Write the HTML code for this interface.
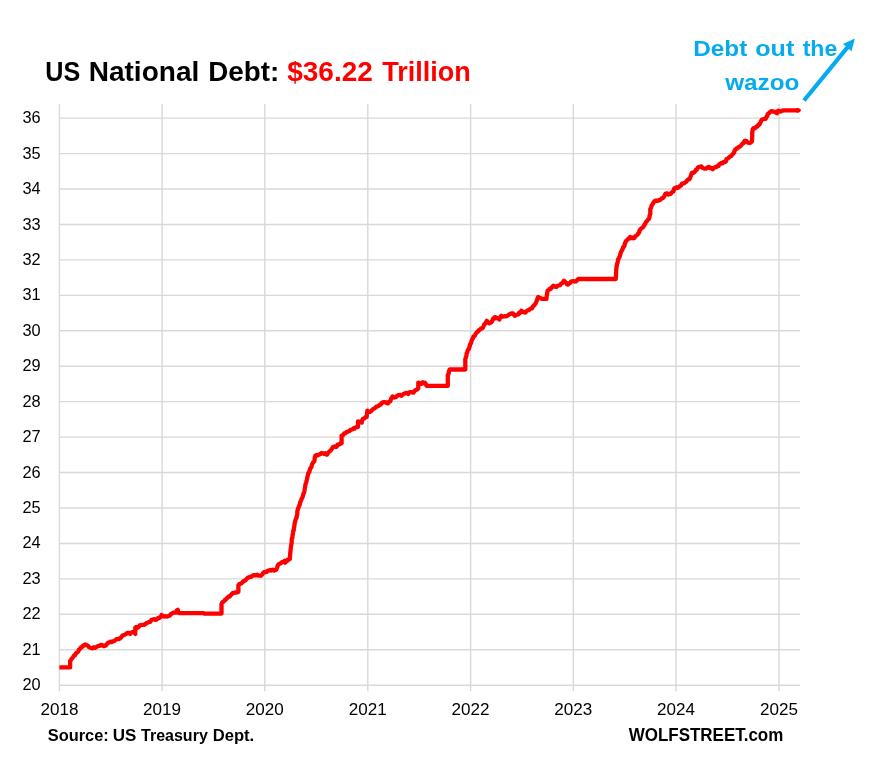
<!DOCTYPE html>
<html lang="en">
<head>
<meta charset="utf-8">
<title>US National Debt</title>
<style>
html,body{margin:0;padding:0;background:#fff;}
body{width:877px;height:760px;overflow:hidden;}
svg{display:block;}
text{font-family:"Liberation Sans",sans-serif;}
.b{font-weight:bold;}
.ax{font-size:16.6px;fill:#000;}
</style>
</head>
<body>
<svg width="877" height="760" viewBox="0 0 877 760">
<rect width="877" height="760" fill="#ffffff"/>
<g stroke="#d9d9d9" stroke-width="1.4" fill="none">
<line x1="59.4" y1="118.15" x2="800" y2="118.15"/>
<line x1="59.4" y1="153.59" x2="800" y2="153.59"/>
<line x1="59.4" y1="189.03" x2="800" y2="189.03"/>
<line x1="59.4" y1="224.47" x2="800" y2="224.47"/>
<line x1="59.4" y1="259.91" x2="800" y2="259.91"/>
<line x1="59.4" y1="295.35" x2="800" y2="295.35"/>
<line x1="59.4" y1="330.79" x2="800" y2="330.79"/>
<line x1="59.4" y1="366.23" x2="800" y2="366.23"/>
<line x1="59.4" y1="401.67" x2="800" y2="401.67"/>
<line x1="59.4" y1="437.11" x2="800" y2="437.11"/>
<line x1="59.4" y1="472.55" x2="800" y2="472.55"/>
<line x1="59.4" y1="507.99" x2="800" y2="507.99"/>
<line x1="59.4" y1="543.43" x2="800" y2="543.43"/>
<line x1="59.4" y1="578.87" x2="800" y2="578.87"/>
<line x1="59.4" y1="614.31" x2="800" y2="614.31"/>
<line x1="59.4" y1="649.75" x2="800" y2="649.75"/>
<line x1="59.4" y1="685.19" x2="800" y2="685.19"/>
<line x1="59.4" y1="103.7" x2="59.4" y2="691.3"/>
<line x1="162.1" y1="103.7" x2="162.1" y2="691.3"/>
<line x1="264.8" y1="103.7" x2="264.8" y2="691.3"/>
<line x1="367.8" y1="103.7" x2="367.8" y2="691.3"/>
<line x1="470.6" y1="103.7" x2="470.6" y2="691.3"/>
<line x1="573.3" y1="103.7" x2="573.3" y2="691.3"/>
<line x1="676.0" y1="103.7" x2="676.0" y2="691.3"/>
<line x1="779.0" y1="103.7" x2="779.0" y2="691.3"/>
</g>
<g class="ax" text-anchor="end">
<text x="40.6" y="123.2" textLength="18.2" lengthAdjust="spacingAndGlyphs">36</text>
<text x="40.6" y="158.6" textLength="18.2" lengthAdjust="spacingAndGlyphs">35</text>
<text x="40.6" y="194.0" textLength="18.2" lengthAdjust="spacingAndGlyphs">34</text>
<text x="40.6" y="229.5" textLength="18.2" lengthAdjust="spacingAndGlyphs">33</text>
<text x="40.6" y="264.9" textLength="18.2" lengthAdjust="spacingAndGlyphs">32</text>
<text x="40.6" y="300.4" textLength="18.2" lengthAdjust="spacingAndGlyphs">31</text>
<text x="40.6" y="335.8" textLength="18.2" lengthAdjust="spacingAndGlyphs">30</text>
<text x="40.6" y="371.2" textLength="18.2" lengthAdjust="spacingAndGlyphs">29</text>
<text x="40.6" y="406.7" textLength="18.2" lengthAdjust="spacingAndGlyphs">28</text>
<text x="40.6" y="442.1" textLength="18.2" lengthAdjust="spacingAndGlyphs">27</text>
<text x="40.6" y="477.5" textLength="18.2" lengthAdjust="spacingAndGlyphs">26</text>
<text x="40.6" y="513.0" textLength="18.2" lengthAdjust="spacingAndGlyphs">25</text>
<text x="40.6" y="548.4" textLength="18.2" lengthAdjust="spacingAndGlyphs">24</text>
<text x="40.6" y="583.9" textLength="18.2" lengthAdjust="spacingAndGlyphs">23</text>
<text x="40.6" y="619.3" textLength="18.2" lengthAdjust="spacingAndGlyphs">22</text>
<text x="40.6" y="654.7" textLength="18.2" lengthAdjust="spacingAndGlyphs">21</text>
<text x="40.6" y="690.2" textLength="18.2" lengthAdjust="spacingAndGlyphs">20</text>
</g>
<g class="ax" text-anchor="middle">
<text x="59.4" y="715.4" textLength="38" lengthAdjust="spacingAndGlyphs">2018</text>
<text x="162.1" y="715.4" textLength="38" lengthAdjust="spacingAndGlyphs">2019</text>
<text x="264.8" y="715.4" textLength="38" lengthAdjust="spacingAndGlyphs">2020</text>
<text x="367.8" y="715.4" textLength="38" lengthAdjust="spacingAndGlyphs">2021</text>
<text x="470.6" y="715.4" textLength="38" lengthAdjust="spacingAndGlyphs">2022</text>
<text x="573.3" y="715.4" textLength="38" lengthAdjust="spacingAndGlyphs">2023</text>
<text x="676.0" y="715.4" textLength="38" lengthAdjust="spacingAndGlyphs">2024</text>
<text x="779.0" y="715.4" textLength="38" lengthAdjust="spacingAndGlyphs">2025</text>
</g>
<path d="M59.4,667.4 L70.1,667.4 L70.1,661.5 L70.6,660.2 L71.1,659.7 L71.9,658.4 L72.9,657.4 L74.0,655.6 L75.1,655.2 L75.8,653.6 L76.5,652.7 L77.6,652.3 L78.2,651.5 L78.7,649.9 L79.6,649.6 L80.1,648.3 L81.1,647.4 L82.0,647.1 L83.2,645.4 L84.2,645.7 L85.2,644.5 L86.4,644.8 L87.4,645.3 L88.1,645.9 L88.9,647.1 L90.1,647.7 L91.2,648.0 L92.6,648.3 L93.7,647.2 L95.1,647.8 L96.4,647.1 L97.5,646.2 L98.5,645.9 L99.8,645.8 L100.8,644.8 L101.9,644.9 L103.0,645.8 L103.9,646.2 L104.8,645.8 L105.7,645.5 L107.0,644.0 L107.9,642.9 L108.9,642.7 L110.2,641.6 L111.5,642.2 L112.7,641.4 L113.9,641.2 L115.3,640.2 L116.5,639.2 L117.7,639.0 L119.1,639.1 L120.2,638.3 L121.3,637.2 L122.4,635.6 L123.4,635.2 L124.8,634.7 L125.8,634.2 L127.1,633.0 L128.2,633.1 L129.2,632.9 L130.3,633.9 L131.4,632.5 L132.8,632.0 L134.2,632.3 L135.3,633.9 L135.3,627.6 L136.4,627.0 L137.8,627.6 L139.0,626.6 L139.8,625.3 L140.9,625.1 L142.5,624.8 L144.0,624.9 L145.3,624.1 L146.5,623.1 L148.0,622.5 L149.1,622.0 L150.2,621.9 L151.5,619.8 L152.8,619.5 L154.1,619.2 L155.2,619.8 L156.6,619.7 L157.8,618.2 L159.1,618.2 L160.0,617.0 L160.8,616.8 L161.6,615.1 L162.9,615.9 L164.1,616.6 L165.0,616.2 L166.1,616.3 L167.6,616.5 L168.8,615.8 L169.8,615.7 L170.6,614.3 L171.5,613.8 L173.1,612.7 L174.5,612.7 L176.0,612.5 L176.7,610.5 L177.8,609.8 L178.0,610.5 L178.3,611.8 L178.8,613.1 L203.9,613.2 L204.5,613.6 L221.5,613.6 L221.5,604.0 L222.2,602.4 L223.1,601.7 L224.0,601.4 L225.1,599.8 L225.7,599.7 L226.7,598.3 L227.7,597.7 L228.5,596.7 L229.8,596.6 L230.5,595.2 L231.5,594.5 L232.6,593.2 L233.9,592.9 L235.3,592.4 L236.7,592.5 L238.4,591.7 L238.4,585.1 L239.6,583.8 L240.3,583.9 L241.5,583.3 L242.3,582.4 L243.4,581.4 L244.6,580.6 L245.5,580.3 L246.5,578.9 L247.7,577.9 L249.1,577.1 L250.3,577.0 L251.7,576.4 L252.7,575.5 L254.1,575.1 L255.8,575.4 L257.2,574.7 L258.6,575.7 L259.7,575.7 L261.0,575.6 L262.2,574.5 L263.2,572.8 L264.1,572.0 L265.2,571.8 L266.6,572.0 L267.8,570.6 L269.1,570.7 L268.9,570.6 L270.2,569.9 L271.4,570.6 L272.7,569.6 L274.1,570.6 L275.2,570.3 L276.1,569.7 L277.1,567.7 L277.6,566.0 L278.2,564.8 L278.9,564.0 L280.1,563.6 L281.0,563.2 L282.1,562.1 L283.5,561.7 L284.6,560.8 L285.2,562.7 L286.1,561.0 L287.0,561.2 L287.7,559.6 L288.7,559.7 L289.8,559.0 L290.2,554.0 L290.8,547.7 L291.1,546.0 L291.3,544.9 L291.3,544.6 L291.7,542.5 L291.7,541.4 L291.7,540.5 L291.9,538.3 L292.3,538.2 L292.5,535.8 L292.5,535.1 L292.8,534.6 L293.0,532.4 L293.1,530.8 L293.6,530.8 L293.9,528.9 L294.0,527.6 L294.4,526.2 L294.4,525.6 L294.6,523.4 L295.0,522.2 L295.2,521.3 L295.6,519.7 L296.2,518.3 L296.5,517.6 L296.7,516.1 L297.1,515.2 L297.3,513.7 L297.3,512.6 L297.3,511.4 L297.7,510.1 L298.0,508.7 L298.8,506.8 L299.1,505.8 L299.6,505.0 L300.3,501.9 L300.9,501.0 L301.5,499.1 L302.1,498.1 L302.7,496.9 L303.1,494.9 L303.4,493.7 L304.0,492.8 L304.2,492.0 L304.5,490.4 L304.6,489.7 L304.9,488.0 L305.2,486.6 L305.3,485.3 L305.6,484.0 L306.1,482.7 L306.4,481.8 L306.5,480.9 L307.1,479.1 L307.2,477.7 L307.5,477.0 L308.0,474.6 L308.3,473.3 L308.9,472.1 L309.4,471.9 L309.7,470.2 L310.3,468.4 L310.6,468.0 L311.4,467.1 L311.9,464.8 L312.2,464.0 L313.1,462.5 L314.1,461.4 L314.5,460.7 L314.7,458.1 L314.9,457.2 L315.3,455.8 L316.5,454.9 L317.6,455.3 L319.1,454.5 L320.3,454.2 L321.5,453.0 L322.8,453.3 L323.9,453.8 L325.2,453.2 L326.3,454.6 L327.2,454.5 L327.9,453.0 L328.9,452.0 L329.5,451.4 L330.4,450.8 L331.4,449.4 L332.0,448.7 L332.9,447.0 L334.6,446.5 L336.0,447.0 L336.9,446.3 L337.5,444.7 L338.5,444.5 L339.5,444.4 L340.7,443.1 L341.6,443.3 L341.6,435.7 L343.0,435.1 L344.3,433.4 L345.4,433.2 L346.6,431.9 L347.4,431.9 L348.5,431.3 L349.7,430.8 L350.5,429.8 L351.7,429.5 L352.6,429.2 L353.6,428.2 L354.8,428.5 L355.7,427.3 L356.9,427.2 L358.0,426.9 L358.0,421.3 L359.1,422.1 L360.3,422.2 L361.7,422.6 L361.9,421.1 L362.4,419.7 L363.0,418.8 L364.3,418.5 L365.5,417.1 L366.7,416.9 L367.4,410.6 L368.5,411.9 L369.9,411.9 L370.7,411.6 L371.8,410.4 L372.5,409.6 L373.6,408.7 L374.9,408.3 L375.9,407.0 L376.9,406.5 L378.2,406.2 L379.4,405.1 L380.7,404.6 L381.6,403.1 L382.9,402.3 L383.8,402.1 L384.7,402.1 L386.0,402.3 L386.9,403.3 L388.0,403.3 L388.9,401.8 L390.1,401.5 L390.7,399.9 L391.3,398.4 L392.2,397.3 L392.6,396.4 L394.2,397.5 L395.7,397.1 L397.1,395.8 L398.2,395.2 L399.2,395.1 L400.3,394.9 L401.4,395.8 L402.6,394.9 L403.9,393.7 L405.1,393.3 L406.1,392.8 L407.2,393.1 L408.3,393.9 L409.1,392.3 L410.2,392.1 L411.6,392.1 L413.3,392.7 L414.3,391.6 L415.2,390.2 L416.3,389.9 L417.4,389.3 L418.3,388.3 L418.3,382.6 L419.5,383.1 L420.8,383.9 L421.6,383.8 L422.7,382.3 L423.8,383.2 L424.9,382.7 L425.8,383.9 L426.5,385.9 L447.8,385.9 L447.8,375.1 L448.2,374.6 L448.7,373.2 L448.9,371.2 L449.5,370.6 L449.7,369.5 L465.3,369.5 L465.3,358.8 L465.8,358.0 L466.2,356.4 L466.5,355.3 L466.6,353.4 L467.2,352.5 L467.6,350.7 L468.3,349.4 L468.8,348.9 L469.3,347.7 L469.7,346.3 L469.9,345.3 L470.2,344.0 L471.0,343.2 L471.4,341.5 L471.7,340.5 L472.4,339.0 L472.9,338.4 L473.5,336.4 L474.1,336.3 L475.1,335.4 L475.5,334.0 L476.3,333.0 L477.2,332.1 L477.9,331.6 L478.7,330.2 L479.8,329.8 L481.1,328.4 L482.4,328.3 L482.9,327.6 L483.5,326.3 L484.2,324.4 L484.9,324.0 L485.6,323.2 L486.1,322.1 L486.8,320.8 L487.6,321.7 L488.3,322.4 L489.3,323.3 L490.2,322.9 L491.6,322.0 L492.5,320.2 L493.3,318.4 L494.4,318.6 L495.0,317.1 L496.2,317.6 L497.5,318.3 L498.6,318.5 L499.4,319.6 L500.0,317.9 L500.6,316.5 L501.2,315.8 L502.7,316.7 L504.4,316.2 L505.6,316.3 L506.9,316.1 L508.1,315.2 L509.5,314.2 L510.4,313.9 L511.9,313.3 L512.9,313.4 L513.9,314.9 L515.0,315.8 L516.0,314.8 L517.3,314.7 L518.2,314.5 L519.1,312.8 L519.6,313.2 L520.6,312.4 L521.3,310.8 L522.2,311.9 L523.3,311.7 L524.4,312.4 L525.5,312.6 L526.6,311.1 L527.5,310.4 L528.8,310.2 L530.0,309.0 L531.1,308.6 L532.0,308.3 L532.7,306.8 L533.4,306.1 L534.5,304.8 L535.1,303.9 L535.7,303.3 L536.3,301.8 L536.7,301.1 L537.0,299.6 L537.7,298.5 L538.2,297.0 L539.5,298.0 L540.6,297.9 L542.0,298.9 L546.4,298.9 L546.5,298.2 L546.7,296.1 L547.1,294.5 L547.1,294.1 L547.3,292.3 L547.6,290.7 L548.6,290.2 L549.6,288.9 L550.8,288.8 L551.8,287.3 L552.4,286.7 L553.3,285.7 L554.5,286.7 L555.2,286.4 L556.4,286.9 L557.5,285.8 L558.8,285.5 L560.2,285.1 L561.1,283.6 L562.3,283.0 L563.0,282.2 L564.0,280.7 L564.8,281.5 L565.5,282.4 L566.2,282.8 L567.1,284.4 L568.0,284.5 L569.2,283.2 L570.0,283.1 L571.0,281.6 L572.1,281.3 L573.3,281.1 L574.6,281.3 L575.0,281.5 L576.2,281.3 L576.9,280.4 L578.2,279.0 L615.8,279.0 L616.2,270.3 L616.4,268.3 L616.5,268.4 L616.5,266.7 L617.0,265.1 L617.0,264.0 L617.5,263.2 L617.7,262.2 L618.0,259.6 L618.6,259.0 L618.9,257.7 L619.5,257.1 L620.0,255.4 L620.4,253.9 L621.0,252.0 L621.4,251.4 L622.2,249.8 L622.6,249.1 L623.2,247.1 L624.0,246.6 L624.6,245.2 L624.8,243.4 L625.4,242.7 L625.8,241.4 L626.6,240.4 L627.4,239.8 L628.4,238.5 L629.4,238.6 L630.2,237.0 L631.2,238.0 L632.2,237.5 L633.3,238.3 L634.5,238.0 L635.3,236.1 L636.7,235.4 L637.7,234.5 L638.2,233.3 L639.2,232.5 L639.4,230.7 L640.2,229.8 L640.9,228.9 L641.8,228.1 L643.1,227.2 L644.0,225.7 L644.5,224.5 L645.2,223.9 L645.9,222.0 L646.8,221.4 L648.1,219.4 L649.0,218.8 L649.5,217.2 L649.5,216.3 L649.9,214.6 L650.3,213.8 L650.3,208.8 L651.1,207.8 L651.5,205.8 L652.4,204.6 L652.8,203.8 L653.7,202.2 L654.8,201.0 L655.9,200.6 L657.1,201.0 L658.2,200.5 L659.1,200.0 L660.3,200.0 L661.7,198.3 L662.8,198.1 L663.3,197.5 L664.2,196.5 L664.8,195.1 L665.4,193.8 L666.3,193.4 L667.3,193.3 L668.3,194.5 L669.5,194.0 L670.6,193.9 L672.1,192.1 L673.2,191.5 L673.6,190.9 L674.1,188.7 L674.5,188.3 L675.8,187.8 L676.6,187.2 L677.6,188.0 L678.9,187.1 L680.1,186.0 L680.9,185.6 L682.0,183.6 L683.3,183.3 L684.4,183.1 L685.9,182.0 L687.0,180.8 L688.0,179.5 L689.2,179.4 L690.2,177.7 L690.8,176.1 L691.1,174.9 L691.7,173.2 L692.1,172.7 L693.2,172.9 L694.0,172.5 L695.2,171.4 L696.0,169.7 L697.0,169.6 L697.7,167.6 L698.9,167.0 L700.2,166.7 L701.5,166.4 L702.4,167.8 L703.7,168.3 L704.6,168.6 L705.8,168.7 L706.7,168.0 L707.8,167.1 L709.0,167.0 L710.1,168.2 L711.6,168.0 L712.7,169.2 L713.8,168.1 L715.3,167.0 L716.5,167.0 L717.6,166.0 L718.6,166.0 L719.2,164.3 L720.3,163.9 L721.4,162.8 L722.5,163.2 L723.6,162.0 L724.8,162.1 L725.9,161.4 L726.5,158.9 L727.9,158.4 L728.9,157.5 L730.3,156.4 L731.2,156.0 L732.1,154.6 L733.0,153.9 L734.1,152.6 L734.4,151.2 L735.1,150.0 L735.3,149.5 L736.2,149.0 L737.4,148.0 L738.0,147.6 L739.1,146.9 L740.1,146.4 L740.8,145.8 L742.1,144.1 L742.9,143.2 L743.9,142.9 L744.5,140.8 L745.4,140.7 L746.5,141.1 L747.9,142.6 L748.2,142.7 L749.5,143.0 L750.6,142.5 L751.9,141.4 L752.0,140.6 L752.2,138.4 L752.0,138.1 L752.3,136.3 L752.2,134.4 L752.2,132.9 L752.5,131.8 L752.4,131.0 L752.6,129.5 L753.6,128.1 L754.5,128.5 L755.7,127.6 L756.5,126.5 L757.6,126.5 L758.4,124.6 L759.5,124.5 L760.1,123.1 L760.6,122.2 L761.5,120.2 L762.0,119.5 L763.1,119.2 L764.6,118.8 L765.7,118.9 L766.2,117.5 L766.6,116.5 L767.3,116.1 L767.6,114.5 L768.3,113.5 L769.1,113.2 L770.1,112.0 L771.5,111.1 L772.8,111.6 L773.9,111.6 L775.1,112.0 L775.8,112.6 L777.0,113.2 L777.7,111.2 L778.3,110.7 L779.7,111.4 L780.8,111.6 L782.1,110.6 L783.3,110.5 L784.5,110.3 L798.9,110.3" fill="none" stroke="#ff0000" stroke-width="4.3" stroke-linejoin="round" stroke-linecap="butt"/>
<path d="M797,110.3 L798.7,110.3" fill="none" stroke="#ff0000" stroke-width="4.3" stroke-linecap="round"/>
<text class="b" x="45.2" y="80.5" font-size="27" fill="#000" textLength="35.0" lengthAdjust="spacingAndGlyphs">US</text>
<text class="b" x="88.7" y="80.5" font-size="27" fill="#000" textLength="110.6" lengthAdjust="spacingAndGlyphs">National</text>
<text class="b" x="208.2" y="80.5" font-size="27" fill="#000" textLength="71.1" lengthAdjust="spacingAndGlyphs">Debt:</text>
<text class="b" x="287.2" y="80.5" font-size="27" fill="#ff0000" textLength="85.6" lengthAdjust="spacingAndGlyphs">$36.22</text>
<text class="b" x="382.2" y="80.5" font-size="27" fill="#ff0000" textLength="88.6" lengthAdjust="spacingAndGlyphs">Trillion</text>
<text class="b" x="693.2" y="55.9" font-size="22.3" fill="#05abed" textLength="54.1" lengthAdjust="spacingAndGlyphs">Debt</text>
<text class="b" x="755.2" y="55.9" font-size="22.3" fill="#05abed" textLength="39.1" lengthAdjust="spacingAndGlyphs">out</text>
<text class="b" x="802.7" y="55.9" font-size="22.3" fill="#05abed" textLength="34.6" lengthAdjust="spacingAndGlyphs">the</text>
<text class="b" x="725.2" y="90.3" font-size="22.3" fill="#05abed" textLength="74.1" lengthAdjust="spacingAndGlyphs">wazoo</text>
<text class="b" x="47.7" y="740.8" font-size="16.5" fill="#000" textLength="61.1" lengthAdjust="spacingAndGlyphs">Source:</text>
<text class="b" x="112.7" y="740.8" font-size="16.5" fill="#000" textLength="23.6" lengthAdjust="spacingAndGlyphs">US</text>
<text class="b" x="141.0" y="740.8" font-size="16.5" fill="#000" textLength="66.8" lengthAdjust="spacingAndGlyphs">Treasury</text>
<text class="b" x="212.7" y="740.8" font-size="16.5" fill="#000" textLength="41.5" lengthAdjust="spacingAndGlyphs">Dept.</text>
<text class="b" x="628.7" y="741.2" font-size="19" fill="#000" textLength="154.6" lengthAdjust="spacingAndGlyphs">WOLFSTREET.com</text>
<line x1="804" y1="100.5" x2="848.5" y2="46.2" stroke="#05abed" stroke-width="4.2"/>
<polygon points="854.9,38.4 843.1,44 851.5,51.3" fill="#05abed"/>
</svg>
</body>
</html>
